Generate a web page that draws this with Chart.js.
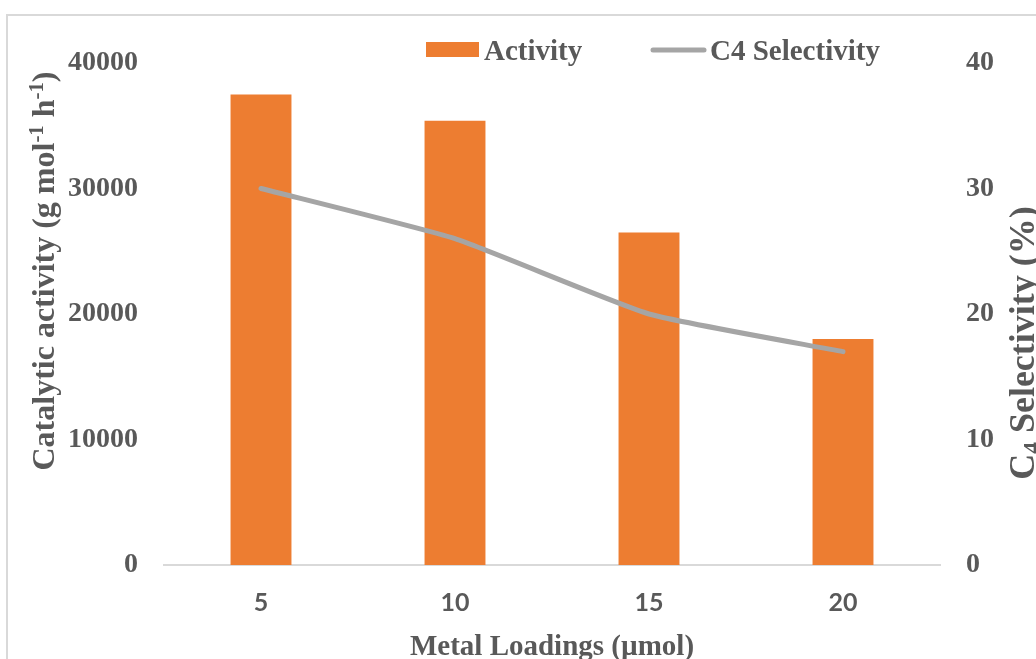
<!DOCTYPE html>
<html>
<head>
<meta charset="utf-8">
<title>Catalytic activity and C4 selectivity vs metal loading</title>
<script src="https://cdn.jsdelivr.net/npm/chart.js@4/dist/chart.umd.min.js"></script>
<style>
  html, body { margin: 0; padding: 0; background: #ffffff; }
  #wrap { position: relative; width: 1036px; height: 659px; }
</style>
</head>
<body>
<div id="wrap"><canvas id="chart" width="1036" height="659"></canvas></div>
<script>
// Metal loadings (µmol) on the category axis
const loadings = ['5', '10', '15', '20'];
// Catalytic activity, g mol-1 h-1 (bars, left axis)
const activity = [37500, 35400, 26500, 18000];
// C4 selectivity, % (line, right axis)
const selectivity = [30, 26, 20, 17];

const TEXT = '#595959';
const SERIF = '"Liberation Serif", "Times New Roman", serif';

// Draws a run of text pieces (normal / superscript / subscript) centred on (cx, baseline)
function drawRich(ctx, runs, size, cx, baseY, rotation) {
  ctx.save();
  ctx.translate(cx, baseY);
  ctx.rotate(rotation);
  ctx.fillStyle = TEXT;
  ctx.textBaseline = 'alphabetic';
  ctx.textAlign = 'left';
  let total = 0;
  const parts = runs.map(r => {
    const s = size * (r.scale || 1);
    ctx.font = 'bold ' + s + 'px ' + SERIF;
    const w = ctx.measureText(r.t).width;
    total += w;
    return { t: r.t, s, w, dy: (r.dy || 0) * size };
  });
  let x = -total / 2;
  parts.forEach(p => {
    ctx.font = 'bold ' + p.s + 'px ' + SERIF;
    ctx.fillText(p.t, x, p.dy);
    x += p.w;
  });
  ctx.restore();
}

const decor = {
  id: 'decor',
  beforeDraw(chart) {
    const ctx = chart.ctx;
    ctx.save();
    ctx.strokeStyle = '#d9d9d9';
    ctx.lineWidth = 2;
    ctx.beginPath();
    ctx.moveTo(7, 700);
    ctx.lineTo(7, 15);
    ctx.lineTo(1100, 15);
    ctx.stroke();
    ctx.restore();
  },
  afterDraw(chart) {
    const ctx = chart.ctx;
    const ds = chart.data.datasets;
    // legend
    ctx.save();
    ctx.font = 'bold 29px ' + SERIF;
    ctx.textBaseline = 'alphabetic';
    ctx.fillStyle = ds[0].backgroundColor;
    ctx.fillRect(426, 42, 53, 15);
    ctx.fillStyle = TEXT;
    ctx.fillText(ds[0].label, 484, 60);
    ctx.strokeStyle = ds[1].borderColor;
    ctx.lineWidth = 5;
    ctx.lineCap = 'round';
    ctx.beginPath();
    ctx.moveTo(653, 50);
    ctx.lineTo(704, 50);
    ctx.stroke();
    ctx.fillText(ds[1].label, 710, 60);
    ctx.restore();

    // axis titles
    drawRich(ctx, [
      { t: 'Catalytic activity (g mol' },
      { t: '-1', scale: 0.65, dy: -0.35 },
      { t: ' h' },
      { t: '-1', scale: 0.65, dy: -0.35 },
      { t: ')' }
    ], 32, 54, 271, -Math.PI / 2);

    drawRich(ctx, [
      { t: 'C' },
      { t: '4', scale: 0.65, dy: 0.15 },
      { t: ' Selectivity (%)' }
    ], 36, 1034, 343, -Math.PI / 2);

    drawRich(ctx, [{ t: 'Metal Loadings (µmol)' }], 29, 552, 655, 0);
  }
};

new Chart(document.getElementById('chart'), {
  type: 'bar',
  data: {
    labels: loadings,
    datasets: [
      {
        type: 'bar',
        label: 'Activity',
        data: activity,
        backgroundColor: '#ED7D31',
        borderWidth: 0,
        barPercentage: 0.314,
        categoryPercentage: 1,
        yAxisID: 'y',
        order: 1
      },
      {
        type: 'line',
        label: 'C4 Selectivity',
        data: selectivity,
        borderColor: '#A5A5A5',
        backgroundColor: '#A5A5A5',
        borderWidth: 5,
        borderCapStyle: 'round',
        borderJoinStyle: 'round',
        pointRadius: 0,
        tension: 0.15,
        yAxisID: 'y1',
        order: 0
      }
    ]
  },
  options: {
    responsive: false,
    animation: false,
    devicePixelRatio: 1,
    layout: { padding: { top: 63, left: 0, right: 0, bottom: 0 } },
    plugins: {
      legend: { display: false },
      tooltip: { enabled: false }
    },
    scales: {
      x: {
        grid: { display: false, drawTicks: false },
        border: { display: true, color: '#d9d9d9', width: 2 },
        ticks: {
          color: TEXT,
          padding: 23,
          font: { family: 'Lato, "Open Sans", sans-serif', weight: 'bold', size: 25 }
        },
        afterFit(scale) { scale.height = 94; }
      },
      y: {
        position: 'left',
        min: 0,
        max: 40000,
        grid: { display: false, drawTicks: false },
        border: { display: false },
        ticks: {
          stepSize: 10000,
          color: TEXT,
          padding: 26,
          font: { family: SERIF, weight: 'bold', size: 28 },
          callback: v => String(v)
        },
        afterFit(scale) { scale.width = 164; }
      },
      y1: {
        position: 'right',
        min: 0,
        max: 40,
        grid: { display: false, drawTicks: false },
        border: { display: false },
        ticks: {
          stepSize: 10,
          color: TEXT,
          padding: 26,
          font: { family: SERIF, weight: 'bold', size: 28 },
          callback: v => String(v)
        },
        afterFit(scale) { scale.width = 96; }
      }
    }
  },
  plugins: [decor]
});
</script>
</body>
</html>
